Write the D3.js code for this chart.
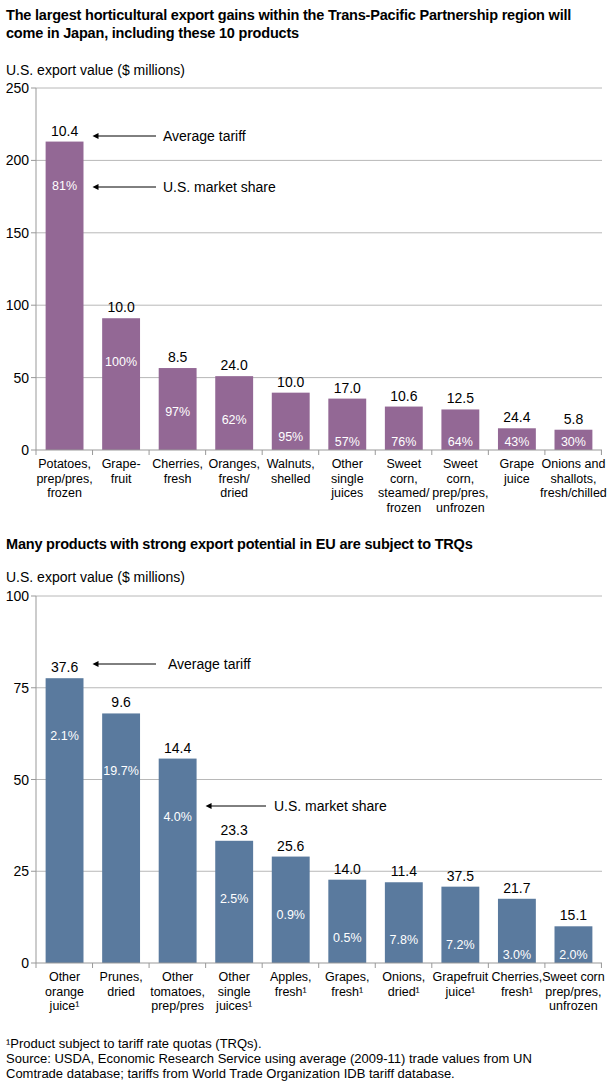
<!DOCTYPE html><html><head><meta charset="utf-8">
<script src="https://cdn.jsdelivr.net/npm/d3@7"></script>
<style>body{margin:0;background:#fff}text{font-family:"Liberation Sans",Arial,sans-serif}</style></head><body>
<svg id="c" width="610" height="1090"></svg>
<script>
const catsA=[["Potatoes,","prep/pres,","frozen"],["Grape-","fruit"],["Cherries,","fresh"],["Oranges,","fresh/","dried"],["Walnuts,","shelled"],["Other","single","juices"],["Sweet","corn,","steamed/","frozen"],["Sweet","corn,","prep/pres,","unfrozen"],["Grape","juice"],["Onions and","shallots,","fresh/chilled"]];
const valsA=[213,91,56.6,51,39.6,35.5,30,28,15,14];
const tariffA=["10.4","10.0","8.5","24.0","10.0","17.0","10.6","12.5","24.4","5.8"];
const shareA=["81%","100%","97%","62%","95%","57%","76%","64%","43%","30%"];
const ticksA=[0,50,100,150,200,250];
const catsB=[["Other","orange","juice¹"],["Prunes,","dried"],["Other","tomatoes,","prep/pres"],["Other","single","juices¹"],["Apples,","fresh¹"],["Grapes,","fresh¹"],["Onions,","dried¹"],["Grapefruit","juice¹"],["Cherries,","fresh¹"],["Sweet corn","prep/pres,","unfrozen"]];
const valsB=[77.6,68,55.7,33.3,29,22.7,22,20.8,17.5,10];
const tariffB=["37.6","9.6","14.4","23.3","25.6","14.0","11.4","37.5","21.7","15.1"];
const shareB=["2.1%","19.7%","4.0%","2.5%","0.9%","0.5%","7.8%","7.2%","3.0%","2.0%"];
const ticksB=[0,25,50,75,100];

const svg=d3.select("#c");
function panel(o){
  const g=svg.append("g");
  g.append("text").attr("x",6).attr("y",o.titleY).attr("font-size",14.5).attr("font-weight","bold").attr("letter-spacing",-0.2)
   .selectAll("tspan").data(o.title).join("tspan").attr("x",6).attr("dy",(d,i)=>i?18:0).text(d=>d);
  g.append("text").attr("x",6).attr("y",o.axisLabelY).attr("font-size",14).text("U.S. export value ($ millions)");
  const x=d3.scaleBand().domain(d3.range(10)).range([36,602]).paddingInner(0.33).paddingOuter(0.17);
  const y=d3.scaleLinear().domain([0,o.max]).range([o.y0,o.y1]);
  g.selectAll(".gl").data(o.ticks.slice(1)).join("line").attr("x1",36).attr("x2",602).attr("y1",d=>y(d)).attr("y2",d=>y(d)).attr("stroke","#b8b8b8");
  g.selectAll(".tl").data(o.ticks).join("text").attr("x",29).attr("y",d=>y(d)+5).attr("text-anchor","end").attr("font-size",14).text(d=>d);
  g.selectAll(".tk").data(o.ticks).join("line").attr("x1",31).attr("x2",36).attr("y1",d=>y(d)).attr("y2",d=>y(d)).attr("stroke","#999");
  g.selectAll(".b").data(o.vals).join("rect").attr("x",(d,i)=>x(i)).attr("width",x.bandwidth()).attr("y",d=>y(d)).attr("height",d=>o.y0-y(d)).attr("fill",o.color);
  g.append("line").attr("x1",36).attr("x2",36).attr("y1",o.y1).attr("y2",o.y0).attr("stroke","#999");
  g.append("line").attr("x1",36).attr("x2",602).attr("y1",o.y0).attr("y2",o.y0).attr("stroke","#999");
  g.selectAll(".xt").data(d3.range(11)).join("line").attr("x1",i=>36+i*x.step()).attr("x2",i=>36+i*x.step()).attr("y1",o.y0).attr("y2",o.y0+5).attr("stroke","#999");
  g.selectAll(".tar").data(o.tariff).join("text").attr("x",(d,i)=>x(i)+x.bandwidth()/2).attr("y",(d,i)=>y(o.vals[i])-6).attr("text-anchor","middle").attr("font-size",14).text(d=>d);
  const sy=(i)=>Math.min(y(o.vals[i])+o.off,o.y0-8);
  g.selectAll(".sh").data(o.share).join("text").attr("x",(d,i)=>x(i)+x.bandwidth()/2).attr("y",(d,i)=>sy(i)+4).attr("text-anchor","middle").attr("font-size",12.5).attr("fill","#fff").text(d=>d);
  o.cats.forEach((c,i)=>{
    g.append("text").attr("x",x(i)+x.bandwidth()/2).attr("y",o.y0+18).attr("text-anchor","middle").attr("font-size",12.5)
     .selectAll("tspan").data(c).join("tspan").attr("x",x(i)+x.bandwidth()/2).attr("dy",(d,j)=>j?14.5:0).text(d=>d);
  });
  o.ann(x);
}
function arrow(xs,xe,yy,label,tx){
  svg.append("line").attr("x1",xs+4).attr("x2",xe).attr("y1",yy).attr("y2",yy).attr("stroke","#000");
  svg.append("path").attr("d",`M${xs},${yy}l6,-3v6z`);
  svg.append("text").attr("x",tx).attr("y",yy+5).attr("font-size",14).text(label);
}
panel({titleY:20,title:["The largest horticultural export gains within the Trans-Pacific Partnership region will","come in Japan, including these 10 products"],axisLabelY:75,
  max:250,y0:450,y1:88,ticks:ticksA,vals:valsA,tariff:tariffA,share:shareA,cats:catsA,color:"#936895",off:44,
  ann:(x)=>{const r=x(0)+x.bandwidth()+9;
    arrow(r,156,136,"Average tariff",163);arrow(r,156,187,"U.S. market share",163);}});
panel({titleY:549,title:["Many products with strong export potential in EU are subject to TRQs"],axisLabelY:582,
  max:100,y0:963,y1:596,ticks:ticksB,vals:valsB,tariff:tariffB,share:shareB,cats:catsB,color:"#5a7a9e",off:58,
  ann:(x)=>{const r=x(0)+x.bandwidth()+9;arrow(r,156,664,"Average tariff",168);
    const r2=x(2)+x.bandwidth()+9;arrow(r2,266,806,"U.S. market share",274);}});
const foot=["¹Product subject to tariff rate quotas (TRQs).","Source: USDA, Economic Research Service using average (2009-11) trade values from UN","Comtrade database; tariffs from World Trade Organization IDB tariff database."];
svg.append("g").selectAll("text").data(foot).join("text").attr("x",6).attr("y",(d,i)=>1048+i*15).attr("font-size",13).text(d=>d);
</script></body></html>
